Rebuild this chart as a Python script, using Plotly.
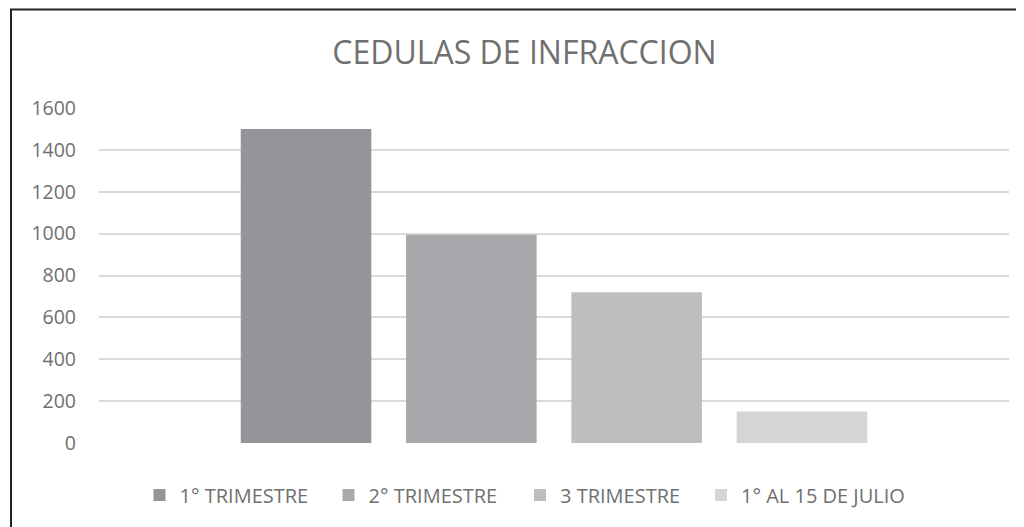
import plotly.graph_objects as go

categories = ["CEDULAS DE INFRACCION"]
series_names = ["1° TRIMESTRE", "2° TRIMESTRE", "3 TRIMESTRE", "1° AL 15 DE JULIO"]
series_values = [1500, 995, 720, 150]
series_colors = ["#939598", "#a7a9ac", "#bcbec0", "#d4d5d6"]
y_ticks = [0, 200, 400, 600, 800, 1000, 1200, 1400, 1600]

FONT = "Open Sans, sans-serif"
TEXT = "#707070"

W, H = 1024, 527
OFF = 8  # page body margin
# reference-picture coordinates of the plot area
REF_L, REF_R, REF_T, REF_B = 99, 1009, 108, 443
L = REF_L - OFF
R = W - (REF_R - OFF)
T = REF_T - OFF
B = H - (REF_B - OFF)
pw = W - L - R
ph = H - T - B


def px_x(rx):
    return (rx - OFF - L) / pw


def px_y(ry):
    return (H - B - (ry - OFF)) / ph


legend_square_centers = [159.5, 348.5, 540, 721]
legend_keys = ["legend", "legend2", "legend3", "legend4"]

fig = go.Figure()
for name, val, col, lk in zip(series_names, series_values, series_colors, legend_keys):
    fig.add_trace(go.Bar(x=categories, y=[val], name=name, legend=lk,
                         marker=dict(color=col, line=dict(width=0))))

legend_layouts = {}
for lk, cx in zip(legend_keys, legend_square_centers):
    legend_layouts[lk] = dict(
        orientation="h", x=px_x(cx - 20), xref="paper", xanchor="left",
        y=px_y(495), yanchor="middle", bgcolor="rgba(0,0,0,0)", borderwidth=0,
        font=dict(family=FONT, size=20, color=TEXT), itemwidth=30,
    )

fig.update_layout(
    width=W, height=H,
    margin=dict(l=L, r=R, t=T, b=B, pad=0),
    paper_bgcolor="white", plot_bgcolor="white",
    barmode="group", bargap=0.2734, bargroupgap=0.21,
    title=dict(text="CEDULAS DE INFRACCION", x=(524.5 - OFF) / W, xref="container",
               y=1 - (53 - OFF) / H, yref="container", yanchor="middle", xanchor="center",
               font=dict(family=FONT, size=32, color=TEXT)),
    font=dict(family=FONT, size=19, color=TEXT),
    showlegend=True,
    xaxis=dict(showticklabels=False, showgrid=False, zeroline=False, showline=False, ticks=""),
    yaxis=dict(range=[0, 1600], tickvals=y_ticks, showgrid=True, gridcolor="#d9d9d9", gridwidth=1.5,
               zeroline=False, showline=False, ticks="", ticklabelstandoff=22,
               tickfont=dict(family=FONT, size=19.5, color=TEXT)),
    shapes=[dict(type="rect", xref="paper", yref="paper",
                 x0=px_x(11), x1=px_x(1060), y0=px_y(9.5), y1=px_y(580),
                 line=dict(color="#222222", width=2), fillcolor="rgba(0,0,0,0)", layer="above")],
    **legend_layouts,
)

fig.write_html("out.html")
